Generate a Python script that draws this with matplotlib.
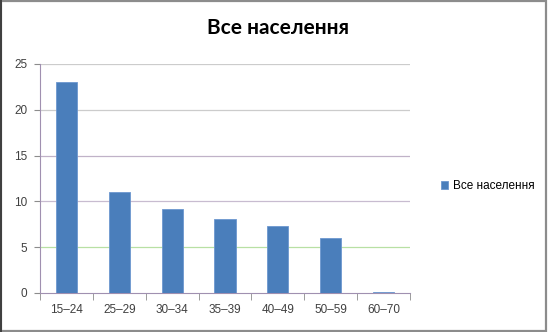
import matplotlib.pyplot as plt
from matplotlib.patches import Rectangle

# ---------------------------
# Data
# ---------------------------

age_groups = ["15\u201324", "25\u201329", "30\u201334", "35\u201339", "40\u201349", "50\u201359", "60\u201370"]
share = [23.0, 11.0, 9.2, 8.05, 7.3, 5.95, 0.1]
y_ticks = [0, 5, 10, 15, 20, 25]

series_name = "Все населення"
bar_color = "#4a7ebb"

plt.rcParams["font.family"] = ["Liberation Sans", "DejaVu Sans"]

# ---------------------------
# Plot
# ---------------------------

fig = plt.figure(figsize=(5.48, 3.32), dpi=100)
ax = fig.add_axes([0.073, 0.1175, 0.675, 0.69])

x = range(len(age_groups))
ax.bar(x, share, width=0.4, color=bar_color, edgecolor="#6d97cf",
       linewidth=0.6, label=series_name, zorder=3)

ax.set_xlim(-0.5, len(age_groups) - 0.5)
ax.set_ylim(0, 25)
ax.set_yticks(y_ticks)
ax.set_yticklabels([str(v) for v in y_ticks], fontsize=8.5, color="#404040")

# gridlines, slightly tinted like the original
grid_colors = {5: "#b8e0a4", 10: "#c8bcd0", 15: "#c0b2c8", 20: "#cccccc", 25: "#cccccc"}
for v, c in grid_colors.items():
    ax.axhline(v, color=c, linewidth=0.9, zorder=1)

ax.set_xticks(x)
ax.set_xticklabels(age_groups, fontsize=8.5, color="#404040")
ax.set_xticks([i - 0.5 for i in range(len(age_groups) + 1)], minor=True)
ax.tick_params(axis="x", which="major", length=0, pad=8)
ax.tick_params(axis="x", which="minor", length=5, color="#8c8c8c", direction="out")
ax.tick_params(axis="y", length=4, color="#8c8c8c", direction="out", pad=5)

for side in ["top", "right"]:
    ax.spines[side].set_visible(False)
ax.spines["left"].set_color("#a090b0")
ax.spines["bottom"].set_color("#a090b0")

fig.text(0.508, 0.915, series_name, ha="center", va="center",
         fontsize=15, fontweight="bold", family="Lato")

fig.legend(loc="center left", bbox_to_anchor=(0.785, 0.44), frameon=False,
           fontsize=8.5, handlelength=0.6, handleheight=0.6, handletextpad=0.4)

# chart frame
fig.patches.append(Rectangle((0.002, 0.004), 0.994, 0.992, transform=fig.transFigure,
                             fill=False, edgecolor="#8c8c8c", linewidth=1.6))
fig.patches.append(Rectangle((0.0, 0.0), 0.003, 1.0, transform=fig.transFigure,
                             color="#404040", linewidth=0))

plt.savefig("out.png")
